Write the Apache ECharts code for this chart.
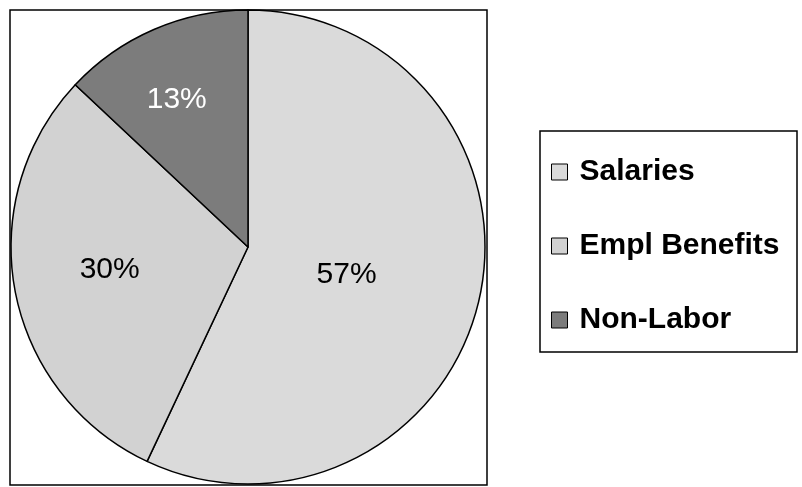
<!DOCTYPE html>
<html>
<head>
<meta charset="utf-8">
<script src="https://cdn.jsdelivr.net/npm/echarts@6/dist/echarts.min.js"></script>
<style>
  html, body { margin: 0; padding: 0; background: #fff; }
  #myChart { width: 802px; height: 487px; }
</style>
</head>
<body>
<div id="myChart"></div>
<script>
var categories = ["Salaries", "Empl Benefits", "Non-Labor"];
var shares = [57, 30, 13];
var sliceColors = ["#dadada", "#d2d2d2", "#7c7c7c"];
var labelColors = ["#000", "#000", "#fff"];
// nudge labels to where the original sits them
var labelShift = [[-20, 1], [-19, 0], [-23, -36]];

var myChart = echarts.init(document.getElementById("myChart"));

myChart.setOption({
  animation: false,
  graphic: [
    {
      type: "rect",
      shape: { x: 10, y: 10, width: 477, height: 475 },
      style: { fill: "none", stroke: "#000", lineWidth: 1.5 },
      z: -1
    },
    {
      type: "rect",
      shape: { x: 540, y: 131, width: 257, height: 221 },
      style: { fill: "none", stroke: "#000", lineWidth: 1.5 },
      z: -1
    }
  ],
  legend: {
    orient: "vertical",
    left: 546,
    top: 152,
    padding: 5,
    itemWidth: 16,
    itemHeight: 16,
    itemGap: 44,
    icon: "rect",
    itemStyle: { borderColor: "#000", borderWidth: 1 },
    textStyle: {
      fontFamily: "Liberation Sans, Arial",
      fontWeight: "bold",
      fontSize: 30,
      color: "#000",
      padding: [0, 0, 0, 7]
    },
    data: categories
  },
  series: [
    {
      type: "pie",
      center: [248, 247],
      radius: 237,
      startAngle: 90,
      clockwise: true,
      silent: true,
      itemStyle: { borderColor: "#000", borderWidth: 1.5 },
      label: {
        show: true,
        position: "inside",
        fontFamily: "Liberation Sans, Arial",
        fontSize: 30,
        formatter: "{c}%"
      },
      labelLine: { show: false },
      labelLayout: function (params) {
        var s = labelShift[params.dataIndex];
        return { dx: s[0], dy: s[1] };
      },
      data: categories.map(function (name, i) {
        return {
          name: name,
          value: shares[i],
          itemStyle: { color: sliceColors[i] },
          label: { color: labelColors[i] }
        };
      })
    }
  ]
});
</script>
</body>
</html>
